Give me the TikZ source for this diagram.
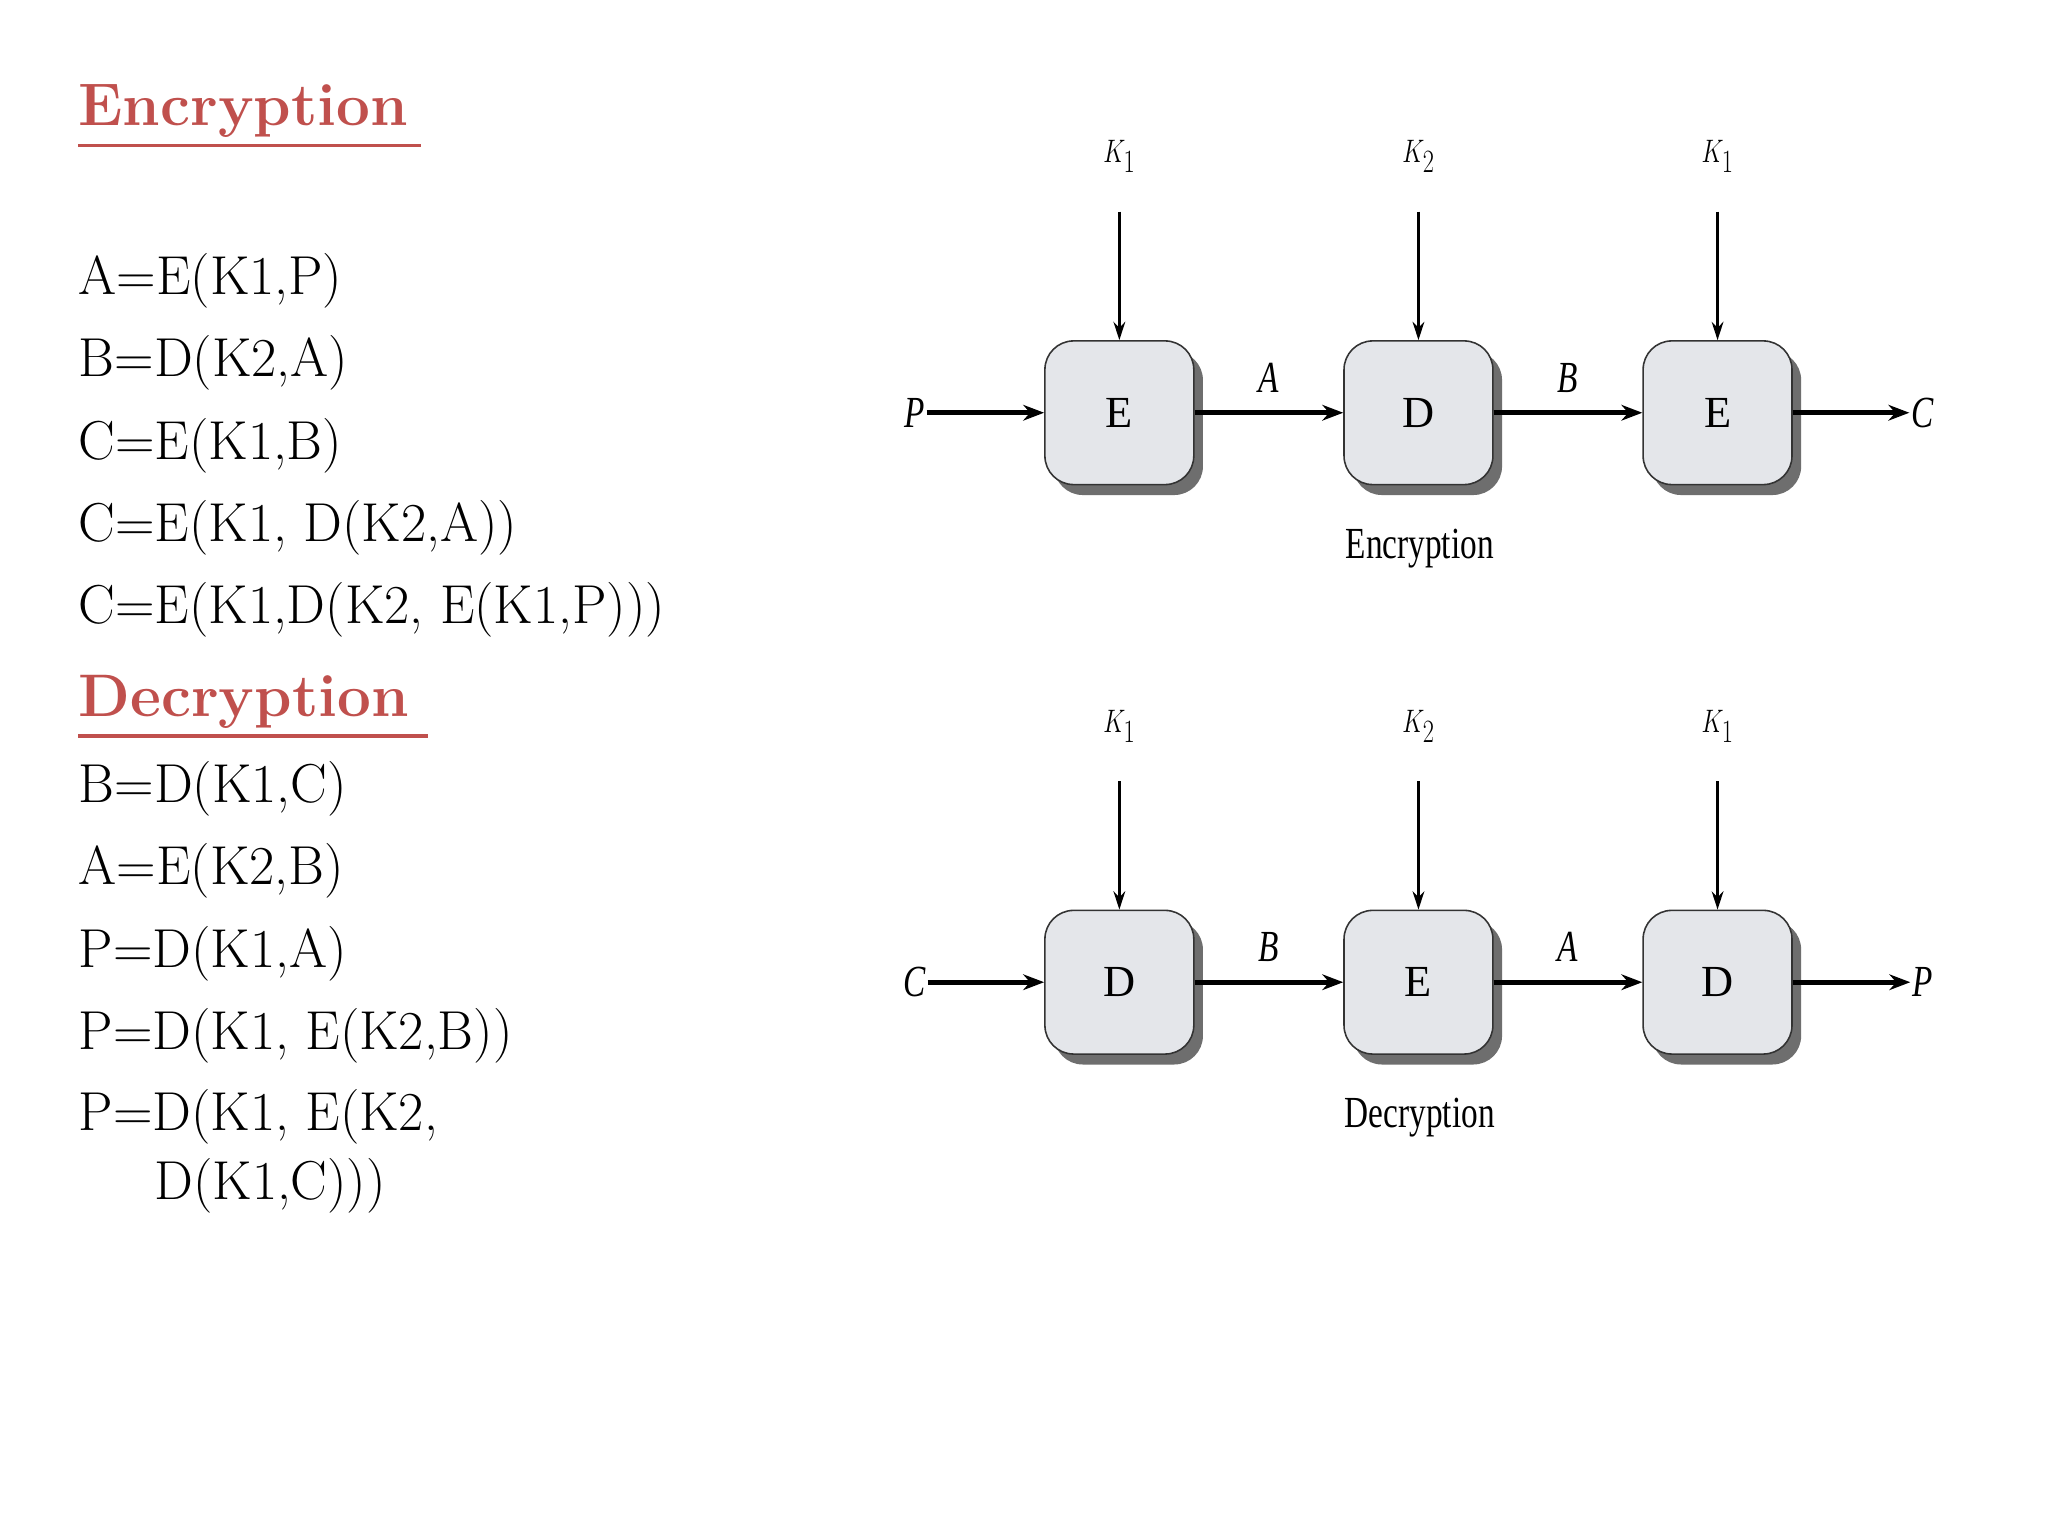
\documentclass[tikz,border=0pt]{standalone}
\usepackage{fontspec}
\newfontfamily\dfont{Liberation Serif}
\usetikzlibrary{arrows.meta,shadows}
\definecolor{hred}{RGB}{192,80,77}
\definecolor{boxfill}{RGB}{228,230,234}
\definecolor{shad}{RGB}{110,110,110}
\tikzset{
 eq/.style={anchor=west,inner sep=0pt,font=\fontsize{42}{48}\selectfont},
 head/.style={anchor=west,inner sep=0pt,text=hred,font=\fontsize{46}{52}\selectfont\bfseries},
 blk/.style={draw=black!80,line width=1.2pt,fill=boxfill,rounded corners=22pt,minimum width=114pt,minimum height=110pt,font=\dfont\fontsize{34}{34}\selectfont,
   drop shadow={shadow xshift=7pt,shadow yshift=-8pt,fill=shad,opacity=1}},
 lab/.style={inner sep=2pt,font=\dfont\itshape\fontsize{34}{34}\selectfont,xscale=0.75},
 captext/.style={inner sep=0pt,font=\dfont\fontsize{34}{34}\selectfont,xscale=0.75},
 arr/.style={-{Stealth[length=16pt,width=12pt]},line width=3.5pt},
 karr/.style={-{Stealth[length=14pt,width=9pt]},line width=2pt}
}
\begin{document}
\begin{tikzpicture}[x=1pt,y=-1pt]
\useasboundingbox (0,0) rectangle (1568,1176);
\fill[white] (0,0) rectangle (1568,1176);
\node[head] (h1) at (60,85) {Encryption};
\draw[hred,line width=2.5pt] (h1.south west)++(0,6) -- ++(262,0);
\node[eq] (e1) at (60,215) {A=E(K1,P)};
\node[eq] (e2) at (60,278) {B=D(K2,A)};
\node[eq] (e3) at (60,341) {C=E(K1,B)};
\node[eq] (e4) at (60,404) {C=E(K1, D(K2,A))};
\node[eq] (e5) at (60,467) {C=E(K1,D(K2, E(K1,P)))};
\node[head] (h2) at (60,537) {Decryption};
\draw[hred,line width=2.5pt] (h2.south west)++(0,6) -- ++(268,0);
\node[eq] (d1) at (60,604) {B=D(K1,C)};
\node[eq] (d2) at (60,667) {A=E(K2,B)};
\node[eq] (d3) at (60,730) {P=D(K1,A)};
\node[eq] (d4) at (60,793) {P=D(K1, E(K2,B))};
\node[eq] (d5) at (60,855) {P=D(K1, E(K2,};
\node[eq] (d6) at (118,908) {D(K1,C)))};
\foreach \yy/\a/\b/\c/\inl/\outl/\la/\lb/\cp/\nm in {316/E/D/E/P/C/A/B/Encryption/u, 752/D/E/D/C/P/B/A/Decryption/l}{
 \node[blk] (\nm1) at (857,\yy) {\a};
 \node[blk] (\nm2) at (1086,\yy) {\b};
 \node[blk] (\nm3) at (1315,\yy) {\c};
 \node[lab] (\nm in) at (700,\yy) {\inl};
 \node[lab] (\nm out) at (1472,\yy) {\outl};
 \node[lab] (\nm k1) at (857,\yy-196) {$K_1$};
 \node[lab] (\nm k2) at (1086,\yy-196) {$K_2$};
 \node[lab] (\nm k3) at (1315,\yy-196) {$K_1$};
 \draw[arr] (\nm in.east) -- (\nm1.west);
 \draw[arr] (\nm1.east) -- node[lab,above=12pt]{\la} (\nm2.west);
 \draw[arr] (\nm2.east) -- node[lab,above=12pt]{\lb} (\nm3.west);
 \draw[arr] (\nm3.east) -- (\nm out.west);
 \draw[karr] (857,\yy-154) -- (\nm1.north);
 \draw[karr] (1086,\yy-154) -- (\nm2.north);
 \draw[karr] (1315,\yy-154) -- (\nm3.north);
 \node[captext] (\nm cap) at (1087,\yy+104) {\cp};
}
\end{tikzpicture}
\end{document}
